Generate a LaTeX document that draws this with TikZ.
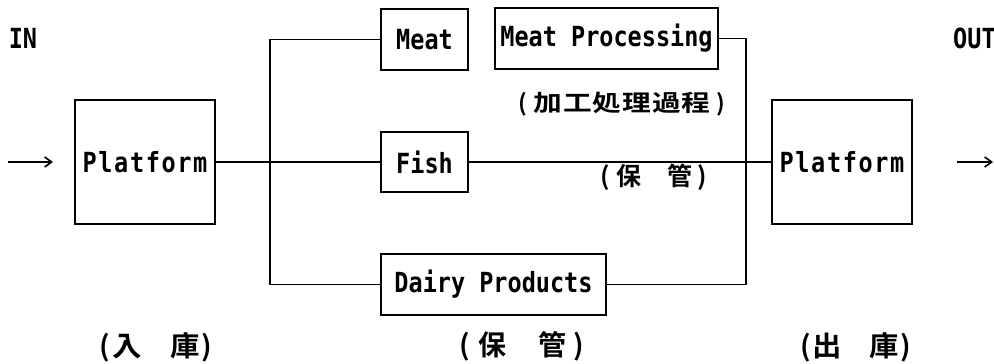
\documentclass[tikz,border=0pt]{standalone}
\usepackage{fontspec}
\usepackage{graphicx}
\newfontfamily\cjk{Noto Sans CJK JP}[BoldFont={Noto Sans CJK JP Bold}]
\newfontfamily\dmono{DejaVu Sans Mono}
\usetikzlibrary{arrows.meta}
\newcommand\jc[3]{\makebox[#1pt][c]{\scalebox{#2}[1]{#3}}}
\newcommand\lt[1]{\scalebox{1}[1.18]{#1}}
\tikzset{
  box/.style={draw, line width=1.6pt, inner sep=0pt, font=\dmono\bfseries\fontsize{23.5}{26}\selectfont},
  conn/.style={line width=1.3pt},
  bus/.style={line width=2.4pt},
  lab/.style={inner sep=0pt, font=\dmono\bfseries\fontsize{23.5}{26}\selectfont},
  jlab/.style={inner sep=0pt},
  arr/.style={line width=1.3pt, -{Straight Barb[length=7pt,width=10pt,line width=1.6pt]}}
}
\begin{document}
\begin{tikzpicture}[x=1pt,y=-1pt]
\useasboundingbox (0,0) rectangle (994,364);

% boxes
\node[box, minimum width=140pt, minimum height=124pt] (pl) at (145,162) {\lt{\addfontfeature{LetterSpace=7}Platform}};
\node[box, minimum width=87pt, minimum height=61pt] (meat) at (424.5,39.5) {\lt{Meat}};
\node[box, minimum width=223pt, minimum height=61pt] (mp) at (606.5,38.5) {\lt{Meat Processing}};
\node[box, minimum width=87pt, minimum height=60pt] (fish) at (424.5,162) {\lt{Fish}};
\node[box, minimum width=225pt, minimum height=61pt] (dairy) at (493.5,284.5) {\lt{Dairy Products}};
\node[box, minimum width=140pt, minimum height=124pt] (pr) at (842,162) {\lt{\addfontfeature{LetterSpace=7}Platform}};

% bus coordinates
\coordinate (bl1) at (270,39.5);
\coordinate (bl2) at (270,284.5);
\coordinate (br1) at (746,38.5);
\coordinate (br2) at (746,284.5);

% connectors
\draw[conn] (pl.east) -- (fish.west);
\draw[conn] (fish.east) -- (pr.west);
\draw[conn, line join=miter] (meat.west) -- (bl1) -- (bl2) -- (dairy.west);
\draw[bus] (bl1) -- (bl2);
\draw[conn, line join=miter] (mp.east) -- (br1) -- (br2) -- (dairy.east);
\draw[bus] (br1) -- (br2);

% in / out arrows
\coordinate (ina) at (8,162);
\coordinate (inb) at (53,162);
\coordinate (outa) at (957,162);
\coordinate (outb) at (993,162);
\draw[arr] (ina) -- (inb);
\draw[arr] (outa) -- (outb);

% labels
\node[lab] (in) at (23,38) {\lt{IN}};
\node[lab, anchor=west] (out) at (953,38) {\lt{OUT}};

\node[jlab, font=\cjk\bfseries\fontsize{23}{26}\selectfont] (kako) at (622,104)
  {\jc{20}{1}{(}\jc{29.6}{1.25}{加}\jc{29.6}{1.25}{工}\jc{29.6}{1.25}{処}\jc{29.6}{1.25}{理}\jc{29.6}{1.25}{過}\jc{29.6}{1.25}{程}\jc{20}{1}{)}};
\node[jlab, font=\cjk\bfseries\fontsize{25}{28}\selectfont] (hokan1) at (654,177)
  {\jc{20}{1}{(}\jc{26}{1}{保}\hspace{25pt}\jc{26}{1}{管}\jc{20}{1}{)}};
\node[jlab, font=\cjk\bfseries\fontsize{28}{31}\selectfont] (nyuko) at (156,347)
  {\jc{16}{1}{(}\jc{28}{1.05}{入}\hspace{30pt}\jc{28}{1.05}{庫}\jc{16}{1}{)}};
\node[jlab, font=\cjk\bfseries\fontsize{28}{31}\selectfont] (hokan2) at (522,346)
  {\jc{26}{1}{(}\jc{28}{1}{保}\hspace{32pt}\jc{28}{1}{管}\jc{26}{1}{)}};
\node[jlab, font=\cjk\bfseries\fontsize{28}{31}\selectfont] (shukko) at (855.5,347)
  {\jc{17}{1}{(}\jc{26}{1.05}{出}\hspace{31pt}\jc{26}{1.05}{庫}\jc{17}{1}{)}};
\end{tikzpicture}
\end{document}
